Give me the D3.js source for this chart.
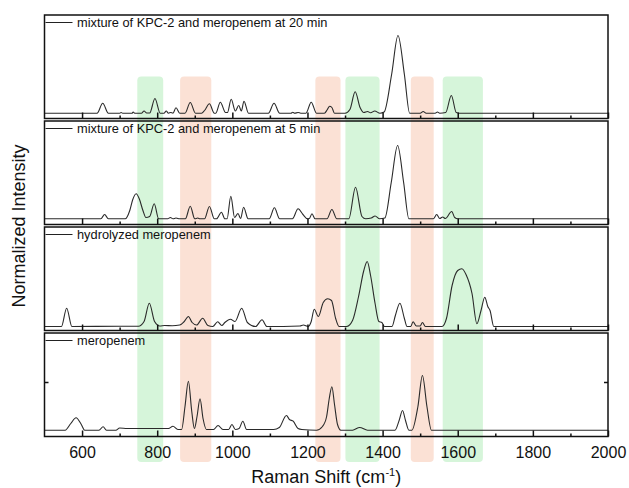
<!DOCTYPE html>
<html>
<head>
<meta charset="utf-8">
<script src="https://cdn.jsdelivr.net/npm/d3@7"></script>
<style>
  body { margin: 0; background: #fff; }
  text { font-family: "Liberation Sans", Arial, sans-serif; fill: #111; }
</style>
</head>
<body>
<svg id="chart" width="629" height="488"></svg>
<script>
// x axis ticks
const majorTicks = [600, 800, 1000, 1200, 1400, 1600, 1800, 2000];
const minorTicks = [700, 900, 1100, 1300, 1500, 1700, 1900];

// shaded regions (cm-1)
const greenBands = [[747, 816], [1301, 1392], [1560, 1667]];
const orangeBands = [[861, 944], [1221, 1288], [1475, 1536]];

const panelLabels = [
  "mixture of KPC-2 and meropenem at 20 min",
  "mixture of KPC-2 and meropenem at 5 min",
  "hydrolyzed meropenem",
  "meropenem"
];

// [shift, intensity]
const mix20 = [[500,5.3],[640,5.3],[655,15.3],[670,5.3],[700,5.3],[704,6],[708,5.3],[733,5.3],[736,6.5],[740,5.3],[758,5.3],[765,7.5],[772,5.5],[780,5.5],[794,20],[808,5.3],[818,5.3],[824,7.5],[830,5.3],[836,6],[842,5.3],[850,10.7],[860,5.3],[874,5.3],[888,16],[902,5.3],[918,5.3],[926,8],[939,14.7],[952,5.3],[956,5.3],[968,16.3],[982,6],[987,6],[997,19.3],[1008,7.5],[1017,13],[1024,7.5],[1031,17.3],[1043,5.3],[1096,5.3],[1111,15.3],[1126,5.3],[1156,5.3],[1161,6.3],[1166,5.3],[1175,6],[1182,5.3],[1196,5.3],[1210,16.3],[1224,5.3],[1245,5.3],[1253,9],[1259,12.3],[1265,11],[1272,5.3],[1300,5.3],[1313,9],[1327,26.7],[1340,11],[1350,6],[1360,7],[1368,5.8],[1379,7.5],[1393,5.3],[1404,6.5],[1424,44],[1441,83],[1458,44],[1472,5.3],[1500,5.3],[1508,7],[1516,5.3],[1540,5.3],[1546,6.5],[1552,5.3],[1568,6],[1583,23],[1596,6],[1605,5.3],[2000,5.3]];

const mix5 = [[500,5.7],[650,5.7],[660,10],[670,5.7],[715,5.7],[727,14],[735,25],[744,30.7],[752,26],[762,14],[770,7],[780,8],[792,20.7],[804,5.7],[828,5.7],[835,7],[842,5.7],[850,6.5],[860,5.7],[875,5.7],[888,18.3],[900,5.7],[908,6.5],[914,5.7],[926,5.7],[939,18],[952,5.7],[958,5.7],[971,12.3],[980,5.7],[986,5.7],[996,28.3],[1006,7],[1015,11],[1022,6],[1030,17.3],[1042,5.7],[1098,5.7],[1112,16.7],[1126,5.7],[1160,5.7],[1175,15.7],[1188,10],[1200,5.7],[1205,6],[1212,10.7],[1220,5.7],[1252,5.7],[1265,15],[1278,5.7],[1310,5.7],[1328,37.3],[1345,8],[1355,5.7],[1370,6.5],[1380,8.5],[1392,5.7],[1406,6.5],[1423,42],[1440,79],[1456,42],[1470,5.7],[1535,5.7],[1544,10],[1552,6],[1560,7.5],[1567,6],[1584,13],[1592,7],[1600,5.7],[2000,5.7]];

const hydrolyzed = [[500,4],[545,4],[559,22.3],[573,4],[700,4.3],[750,4.3],[765,9],[779,27.3],[793,9],[807,4.5],[820,5],[840,4.8],[860,5.5],[872,9],[883,14],[893,8],[905,5.5],[921,12.3],[935,5],[948,4],[961,8.7],[972,5],[980,8],[995,11.3],[1007,9],[1025,22.3],[1040,8],[1062,4],[1079,10.7],[1092,4],[1180,4.5],[1189,5.5],[1202,4],[1210,9],[1218,21.3],[1229,14],[1242,28],[1254,31.7],[1264,30],[1275,12],[1284,4],[1304,4],[1320,10],[1336,34],[1350,60],[1359,69],[1368,55],[1380,27],[1390,9],[1398,8],[1405,4],[1425,4],[1434,15],[1446,27.3],[1458,12],[1465,4],[1475,4],[1481,8.7],[1490,4.5],[1500,4.5],[1506,8],[1514,4],[1558,4],[1570,12],[1585,45],[1600,60],[1611,61.7],[1622,56],[1638,37],[1651,6.7],[1662,20],[1672,33.3],[1680,24],[1686,20],[1696,4],[2000,4]];

const meropenem = [[500,6.3],[555,6.3],[570,13],[584,18.7],[598,12],[607,6.3],[645,6.3],[656,9.7],[665,6.3],[690,6.3],[700,8.5],[720,8],[760,8],[800,8],[830,8],[842,10.3],[855,7],[865,7],[874,30],[883,55.3],[892,25],[899,8],[906,20],[914,37.7],[922,18],[931,7],[950,7],[962,11],[975,7],[990,7],[999,12],[1008,7],[1018,8],[1028,15.3],[1038,7],[1080,7],[1110,7],[1125,9],[1144,21],[1152,17],[1162,15.3],[1175,8],[1185,7],[1224,6.3],[1240,10],[1251,20],[1258,38],[1265,49.7],[1272,32],[1280,12],[1289,6.3],[1320,6.3],[1339,9],[1360,6.3],[1433,6.3],[1444,16],[1453,26],[1461,16],[1470,6.3],[1478,6.3],[1494,30],[1506,61],[1518,30],[1530,6.3],[2000,6.3]];

const spectra = [mix20, mix5, hydrolyzed, meropenem];

const svg = d3.select("#chart");
const left = 44.5, right = 608;
const firstTop = 15, step = 106, panelH = 103.5;

const x = d3.scaleLinear().domain([500, 2000]).range([left, right]);

// bands behind everything
const bandG = svg.append("g");
const drawBands = (bands, color) => {
  bandG.selectAll(null)
    .data(bands)
    .enter()
    .append("rect")
    .attr("x", d => x(d[0]))
    .attr("width", d => x(d[1]) - x(d[0]))
    .attr("y", 76.5)
    .attr("height", 462 - 76.5)
    .attr("rx", 4)
    .style("fill", color);
};
drawBands(greenBands, "#d6f5da");
drawBands(orangeBands, "#fbe1d5");

const line = d3.line().curve(d3.curveMonotoneX);

spectra.forEach((data, i) => {
  const top = firstTop + i * step;
  const bottom = top + panelH;
  const y = d3.scaleLinear().domain([0, panelH]).range([bottom, top]);
  const g = svg.append("g");

  line.x(d => x(d[0])).y(d => y(d[1]));
  g.append("path")
    .attr("d", line(data))
    .style("fill", "none")
    .style("stroke", "#2a2a2a")
    .style("stroke-width", 1.1);

  // inward ticks on the bottom edge
  g.append("g")
    .attr("transform", `translate(0,${bottom})`)
    .call(d3.axisBottom(x).tickValues(minorTicks).tickSizeInner(-3).tickSizeOuter(0).tickFormat(""))
    .call(a => a.select(".domain").remove())
    .selectAll("line").style("stroke", "#111").style("stroke-width", 1.5);

  const major = g.append("g")
    .attr("transform", `translate(0,${bottom})`)
    .call(d3.axisBottom(x).tickValues(majorTicks).tickSizeInner(-6).tickSizeOuter(0).tickPadding(10.5)
      .tickFormat(i === 3 ? d3.format("d") : ""));
  major.select(".domain").remove();
  major.selectAll("line").style("stroke", "#111").style("stroke-width", 1.5);
  major.selectAll("text")
    .style("font-size", "16px")
    .style("font-family", '"Liberation Sans", Arial, sans-serif')
    .style("fill", "#111");

  if (i === 3) {
    const yTick = y(54);
    g.append("line").attr("x1", left).attr("x2", left + 4).attr("y1", yTick).attr("y2", yTick)
      .style("stroke", "#111").style("stroke-width", 1.5);
    g.append("line").attr("x1", right - 4).attr("x2", right).attr("y1", yTick).attr("y2", yTick)
      .style("stroke", "#111").style("stroke-width", 1.5);
  }

  // frame
  g.append("rect")
    .attr("x", left).attr("y", top)
    .attr("width", right - left).attr("height", panelH)
    .style("fill", "none").style("stroke", "#111").style("stroke-width", 1.5);

  // legend
  g.append("line")
    .attr("x1", left + 1).attr("x2", 72.5)
    .attr("y1", top + 7.5).attr("y2", top + 7.5)
    .style("stroke", "#222").style("stroke-width", 1);
  g.append("text")
    .attr("x", 77).attr("y", top + 12)
    .style("font-size", "12.8px")
    .text(panelLabels[i]);
});

// axis titles
const xt = svg.append("text")
  .attr("x", (left + right) / 2).attr("y", 483)
  .attr("text-anchor", "middle")
  .style("font-size", "18px");
xt.append("tspan").text("Raman Shift (cm");
xt.append("tspan").attr("dy", -7).style("font-size", "11px").text("-1");
xt.append("tspan").attr("dy", 7).text(")");

svg.append("text")
  .attr("transform", `translate(25,${(firstTop + 437) / 2}) rotate(-90)`)
  .attr("text-anchor", "middle")
  .style("font-size", "18px")
  .text("Normalized Intensity");
</script>
</body>
</html>
